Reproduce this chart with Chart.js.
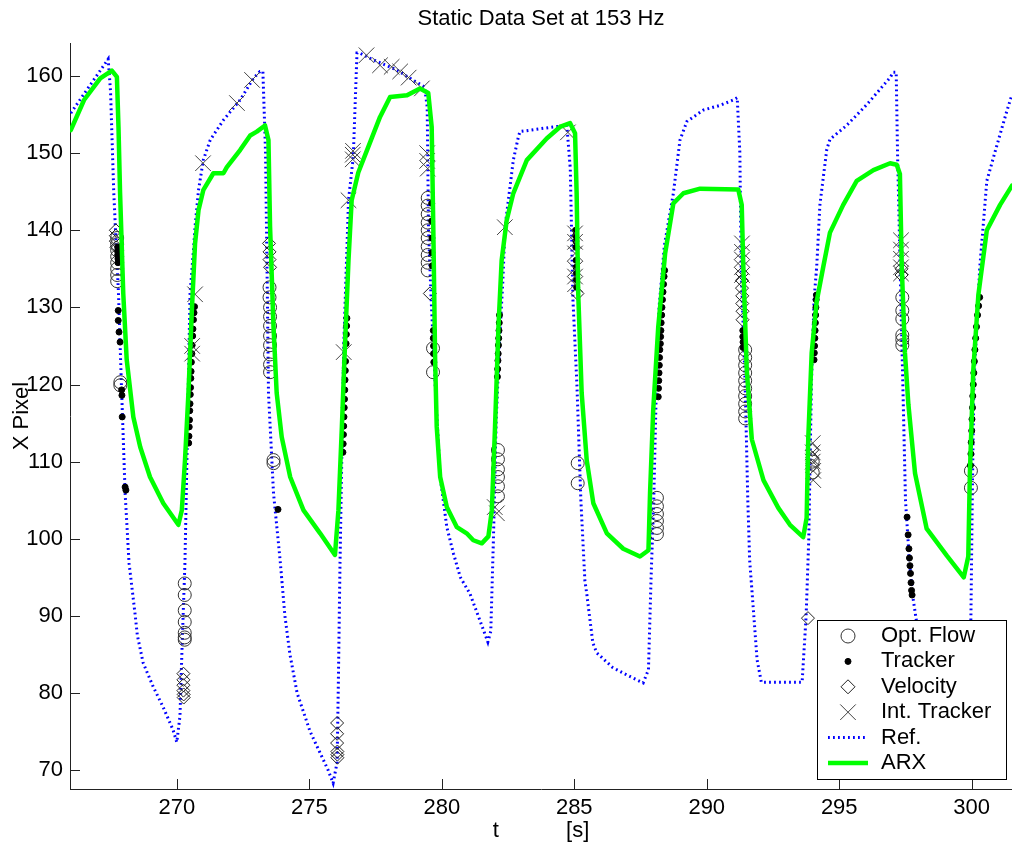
<!DOCTYPE html>
<html>
<head>
<meta charset="utf-8">
<script src="https://cdn.jsdelivr.net/npm/chart.js@4.4.0/dist/chart.umd.min.js"></script>
<style>
  html, body { margin: 0; padding: 0; background: #fff; }
  canvas { display: block; }
</style>
</head>
<body>
<canvas id="myChart" width="1012" height="846"></canvas>
<script>
const chartTitle = 'Static Data Set at 153 Hz';
const xTitle = 't           [s]';
const yTitle = 'X Pixel';
const xTickValues = [270, 275, 280, 285, 290, 295, 300];
const yTickValues = [70, 80, 90, 100, 110, 120, 130, 140, 150, 160];
const xRange = [265.97, 301.52];
const yRange = [67.54, 164.29];

// Ref. trajectory (dotted blue)
const refTime = [266.0, 267.41, 267.5, 267.62, 267.8, 267.92, 268.05, 268.2, 268.43, 268.51, 268.73, 269.11, 269.48, 269.86, 270.0,
  270.12, 270.2, 270.31, 270.5, 270.62, 270.69, 270.82, 271.0, 271.26, 271.76, 272.39, 272.89, 273.14, 273.25,
  273.35, 273.42, 273.46, 273.65, 273.9, 274.08, 274.27, 274.54, 275.03, 275.71, 275.9,
  276.05, 276.1, 276.16, 276.3, 276.48, 276.66, 276.8, 276.9, 277.3, 278.3, 278.9, 279.35, 279.45,
  279.5, 279.6, 279.75, 279.94, 280.19, 280.44, 280.7, 281.06, 281.44, 281.74,
  281.85, 281.95, 282.05, 282.2, 282.3, 282.39, 282.7, 282.89, 282.95, 284.2, 284.72,
  284.85, 284.95, 285.1, 285.25, 285.4, 285.47, 285.7, 285.85, 286.45, 287.0, 287.6,
  287.8, 287.9, 288.0, 288.1, 288.2, 288.4, 288.74, 288.99, 289.25, 289.87, 290.5, 291.0, 291.15,
  291.25, 291.3, 291.45, 291.55, 291.62, 291.9, 292.06, 293.6,
  293.75, 293.85, 293.95, 294.05, 294.15, 294.27, 294.53, 294.65, 295.28, 296.04, 296.92, 297.04, 297.15,
  297.2, 297.3, 297.4, 297.5, 297.65, 297.78, 297.95, 298.4, 299.0, 299.7, 299.9,
  299.97, 300.02, 300.08, 300.3, 300.57, 300.94, 301.32, 301.52];
const refPixel = [155.2, 162.2, 158.0, 145.0, 131.8, 118.9, 105.9, 96.8, 90.1, 87.5, 83.9, 80.8, 78.2, 75.2, 73.6,
  77.0, 86.0, 97.2, 131.8, 137.0, 140.5, 145.2, 149.1, 151.7, 154.3, 156.9, 159.7, 160.6, 160.6,
  150.0, 131.0, 118.9, 105.9, 97.2, 90.0, 85.0, 80.0, 75.0, 70.0, 68.3,
  71.0, 82.0, 97.0, 125.0, 143.9, 149.5, 163.0, 163.0, 162.3, 160.8, 159.5, 158.6, 156.0,
  140.0, 131.0, 120.0, 108.0, 101.5, 98.1, 95.0, 92.9, 89.4, 86.6,
  88.0, 100.0, 115.0, 127.0, 133.0, 140.5, 149.1, 152.1, 152.8, 153.4, 153.6,
  148.0, 131.0, 120.0, 105.0, 94.6, 92.9, 86.5, 85.2, 83.3, 82.3, 81.3,
  83.0, 95.0, 105.0, 120.0, 130.0, 138.0, 144.8, 151.7, 154.1, 155.6, 156.2, 156.9, 157.2,
  150.0, 135.0, 120.0, 105.0, 97.2, 84.3, 81.4, 81.4,
  90.0, 100.0, 120.0, 131.0, 135.3, 143.3, 150.5, 151.8, 153.6, 156.3, 159.8, 160.5, 160.5,
  150.0, 135.0, 120.0, 105.0, 97.0, 92.4, 88.5, 83.0, 79.0, 77.0, 77.5,
  90.0, 105.0, 120.0, 135.0, 146.4, 150.9, 155.4, 157.6];

// ARX model output (green)
const arxTime = [266.0, 266.5, 267.11, 267.55, 267.74, 267.8, 267.86, 267.98, 268.11, 268.36, 268.62, 268.99, 269.49, 270.06,
  270.19, 270.31, 270.44, 270.57, 270.69, 270.82, 271.0, 271.38, 271.76, 271.89, 272.39, 272.77, 273.02, 273.33,
  273.46, 273.52, 273.65, 273.77, 273.96, 274.28, 274.78, 275.41, 275.97,
  276.1, 276.23, 276.35, 276.48, 276.6, 276.85, 277.18, 277.67, 278.05, 278.69, 279.18, 279.49,
  279.62, 279.68, 279.75, 279.81, 279.94, 280.19, 280.57, 280.94, 281.19, 281.51, 281.76,
  281.89, 282.01, 282.14, 282.26, 282.45, 282.7, 283.21, 283.96, 284.46, 284.84,
  285.03, 285.09, 285.15, 285.28, 285.47, 285.72, 286.23, 286.85, 287.48, 287.8,
  287.86, 287.98, 288.17, 288.43, 288.74, 289.12, 289.75, 291.19,
  291.32, 291.38, 291.51, 291.7, 292.14, 292.7, 293.14, 293.64,
  293.77, 293.83, 293.96, 294.15, 294.4, 294.65, 295.15, 295.66, 296.29, 296.92, 297.17,
  297.29, 297.36, 297.48, 297.61, 297.86, 298.3, 299.06, 299.7,
  299.87, 299.93, 300.06, 300.25, 300.57, 301.07, 301.52];
const arxPixel = [153.0, 156.9, 159.7, 160.7, 159.9, 153.4, 144.8, 131.8, 123.2, 115.8, 111.9, 108.0, 104.6, 101.8,
  103.7, 110.2, 118.9, 129.7, 138.3, 142.6, 145.2, 147.4, 147.4, 148.2, 150.4, 152.3, 152.8, 153.6,
  151.7, 140.5, 127.5, 118.9, 113.2, 108.0, 103.7, 100.7, 97.9,
  103.7, 114.5, 125.3, 136.1, 143.9, 147.5, 150.4, 154.7, 157.3, 157.5, 158.4, 157.8,
  153.4, 140.5, 123.2, 114.5, 108.0, 104.1, 101.5, 100.7, 99.8, 99.4, 100.3,
  103.7, 114.5, 127.5, 136.1, 141.3, 144.8, 149.1, 151.9, 153.4, 153.9,
  152.6, 144.8, 131.8, 118.9, 110.2, 104.6, 100.7, 98.7, 97.7, 98.5,
  105.9, 116.7, 127.5, 137.0, 143.5, 144.8, 145.4, 145.3,
  143.3, 135.3, 121.9, 112.9, 107.6, 104.0, 101.8, 100.2,
  102.7, 112.9, 124.1, 130.8, 135.3, 139.7, 143.3, 146.4, 147.8, 148.7, 148.5,
  147.3, 135.3, 124.1, 117.4, 108.5, 101.3, 97.8, 95.0,
  97.7, 108.5, 121.9, 131.6, 140.0, 143.3, 145.8];

// Opt. Flow (open circles)
const flowTime = [267.75, 267.75, 267.75, 267.75, 267.75, 267.75, 267.75, 267.75, 267.87, 267.87,
  270.3, 270.3, 270.3, 270.3, 270.3, 270.3, 270.3,
  273.5, 273.5, 273.52, 273.52, 273.52, 273.52, 273.52, 273.52, 273.52, 273.52, 273.65, 273.65,
  279.47, 279.47, 279.47, 279.47, 279.47, 279.47, 279.47, 279.47, 279.47, 279.47, 279.67, 279.67,
  282.12, 282.12, 282.12, 282.12, 282.12, 282.12, 285.13, 285.13,
  288.12, 288.12, 288.12, 288.12, 288.12, 288.12,
  291.45, 291.45, 291.45, 291.45, 291.45, 291.45, 291.45, 291.45, 291.45, 291.45,
  294.0, 294.0, 297.38, 297.38, 297.38, 297.38, 297.38, 297.38, 299.97, 299.97];
const flowPixel = [139.0, 138.2, 137.4, 136.6, 135.8, 135.0, 134.2, 133.4, 120.3, 119.9,
  94.2, 92.7, 90.7, 89.2, 87.8, 87.2, 86.9,
  132.6, 131.3, 130.0, 128.8, 127.6, 126.3, 125.1, 123.9, 122.6, 121.6, 110.2, 109.8,
  144.2, 143.2, 142.1, 141.0, 140.0, 139.0, 137.9, 136.8, 135.8, 134.8, 124.7, 121.6,
  111.5, 110.3, 109.0, 108.0, 106.8, 105.5, 109.8, 107.2,
  105.3, 104.2, 103.2, 102.3, 101.4, 100.6,
  124.5, 123.5, 122.5, 121.5, 120.5, 119.5, 118.5, 117.5, 116.5, 115.6,
  110.0, 108.6, 131.3, 129.6, 128.5, 126.4, 125.8, 125.1, 108.8, 106.6];

// Tracker (filled dots)
const trackerTime = [267.77, 267.77, 267.77, 267.78, 267.78, 267.79, 267.79, 267.82, 267.86, 267.92, 267.93, 267.94, 268.05, 268.08,
  270.45, 270.46, 270.47, 270.48, 270.49, 270.5, 270.51, 270.52, 270.53, 270.54, 270.55, 270.57, 270.58, 270.6, 270.61, 270.63, 270.65, 270.67,
  273.82,
  276.27, 276.28, 276.29, 276.3, 276.31, 276.32, 276.33, 276.34, 276.35, 276.36, 276.37, 276.39, 276.4, 276.41, 276.42,
  279.62, 279.62, 279.63, 279.63, 279.64, 279.68, 279.68, 279.69, 279.69, 279.7,
  282.1, 282.11, 282.12, 282.13, 282.14, 282.15, 282.16, 282.17, 282.18,
  285.05, 285.05, 285.06, 285.06, 285.07, 285.07, 285.08, 285.08, 285.09,
  288.17, 288.18, 288.19, 288.2, 288.21, 288.22, 288.23, 288.25, 288.26, 288.27, 288.28, 288.3, 288.31, 288.33, 288.35, 288.37, 288.39, 288.41,
  291.36, 291.36, 291.37, 291.37,
  294.05, 294.06, 294.07, 294.08, 294.09, 294.1, 294.11, 294.12, 294.13, 294.14,
  297.56, 297.6, 297.63, 297.65, 297.67, 297.69, 297.71, 297.73, 297.75,
  299.95, 299.97, 299.98, 300.0, 300.01, 300.03, 300.04, 300.06, 300.08, 300.1, 300.12, 300.15, 300.18, 300.22, 300.26, 300.3];
const trackerPixel = [137.8, 137.3, 136.8, 136.3, 135.8, 129.6, 128.3, 126.8, 125.5, 119.3, 118.6, 115.8, 106.7, 106.3,
  112.4, 113.3, 114.5, 115.4, 116.6, 117.5, 118.7, 119.6, 120.8, 121.7, 122.9, 124.0, 125.1, 126.3, 127.2, 128.4, 129.3, 130.1,
  103.8,
  111.2, 112.3, 113.5, 114.6, 115.8, 117.0, 118.1, 119.3, 120.6, 121.8, 123.0, 125.3, 126.5, 127.6, 128.6,
  143.5, 141.2, 139.0, 137.1, 135.4, 127.0, 126.0, 125.0, 124.0, 122.9,
  121.0, 122.0, 123.1, 124.0, 125.1, 126.0, 127.0, 128.0, 129.0,
  140.0, 139.3, 138.6, 137.8, 136.1, 135.2, 134.4, 133.6, 132.6,
  118.4, 119.5, 120.5, 121.5, 122.5, 123.5, 124.5, 125.3, 126.2, 127.0, 128.0, 129.0, 130.0, 131.0, 132.0, 133.0, 134.0, 134.8,
  127.0, 126.2, 125.5, 124.8,
  123.2, 124.1, 125.0, 126.0, 127.0, 128.0, 129.0, 130.0, 131.0, 131.6,
  102.8, 100.5, 98.7, 97.5, 96.5, 95.5, 94.3, 93.3, 92.7,
  109.5, 111.0, 112.5, 114.0, 115.5, 117.0, 118.5, 120.0, 121.5, 123.0, 124.5, 126.0, 127.5, 129.0, 130.2, 131.3];

// Velocity (open diamonds)
const velocityTime = [267.7, 267.7, 267.7, 267.72,
  270.25, 270.25, 270.25, 270.25, 270.26, 270.26,
  273.48, 273.5, 273.5, 273.52,
  276.05, 276.05, 276.05, 276.06, 276.06, 276.06,
  279.55, 285.12,
  291.33, 291.33, 291.33, 291.34, 291.34, 291.35, 291.35,
  293.82, 293.98, 293.98, 293.99, 297.35, 297.35];
const velocityPixel = [140.0, 139.3, 138.6, 137.8,
  82.5, 81.7, 81.0, 80.3, 79.8, 79.4,
  138.3, 137.2, 136.2, 135.2,
  76.1, 74.7, 73.5, 72.4, 72.0, 71.6,
  131.8, 131.8,
  134.4, 133.5, 132.5, 131.5, 130.5, 129.5, 128.4,
  89.7, 111.5, 110.5, 109.5, 135.0, 134.2];

// Int. Tracker (crosses)
const intTime = [270.69, 270.58, 270.58, 270.99, 272.27, 272.84,
  276.3, 276.48, 276.64, 276.64, 276.65,
  277.16, 277.67, 278.11, 278.43, 278.75, 279.25, 279.45, 279.45, 279.47,
  282.0, 282.08, 282.38, 284.76,
  285.03, 285.03, 285.03, 285.03, 285.03, 285.03,
  291.33, 291.33, 291.33, 291.33, 291.33,
  294.0, 294.0, 294.0, 294.02, 294.02,
  297.33, 297.33, 297.33, 297.33, 297.33];
const intPixel = [131.7, 125.0, 124.0, 148.7, 156.5, 159.5,
  124.2, 143.9, 149.2, 149.8, 150.3,
  162.7, 161.4, 161.2, 160.6, 159.8, 158.4, 150.0, 149.0, 148.0,
  104.1, 103.3, 140.4, 152.7,
  139.6, 138.5, 137.0, 135.0, 134.0, 133.0,
  138.3, 137.2, 136.2, 135.2, 134.2,
  112.4, 111.2, 110.0, 108.8, 107.6,
  138.7, 137.5, 136.3, 135.2, 134.4];

const toPoints = (ts, vs) => ts.map((t, i) => ({ x: t, y: vs[i] }));

// MATLAB style ticks pointing into the axes
const innerTicks = {
    id: 'innerTicks',
    afterDraw(chart) {
        const { ctx, chartArea, scales } = chart;
        ctx.save();
        ctx.strokeStyle = '#222';
        ctx.lineWidth = 1;
        ctx.beginPath();
        xTickValues.forEach((v) => {
            const px = Math.round(scales.x.getPixelForValue(v)) + 0.5;
            ctx.moveTo(px, chartArea.bottom);
            ctx.lineTo(px, chartArea.bottom - 10);
        });
        yTickValues.forEach((v) => {
            const py = Math.round(scales.y.getPixelForValue(v)) + 0.5;
            ctx.moveTo(chartArea.left, py);
            ctx.lineTo(chartArea.left + 10, py);
        });
        ctx.stroke();
        ctx.restore();
    },
};

// legend box inside the lower right corner
const boxLegend = {
    id: 'boxLegend',
    afterDraw(chart) {
        const { ctx, chartArea } = chart;
        const w = 189;
        const h = 159;
        const x0 = Math.round(chartArea.right - 6 - w);
        const y0 = Math.round(chartArea.bottom - 10 - h);
        ctx.save();
        ctx.fillStyle = '#fff';
        ctx.fillRect(x0, y0, w, h);
        ctx.strokeStyle = '#000';
        ctx.lineWidth = 1;
        ctx.strokeRect(x0 + 0.5, y0 + 0.5, w, h);
        ctx.font = '22px "Liberation Sans", Arial, sans-serif';
        ctx.textBaseline = 'middle';
        chart.data.datasets.forEach((ds, i) => {
            const y = y0 + 16 + i * 25.4;
            const cx = x0 + 31;
            ctx.save();
            if (ds.showLine) {
                ctx.strokeStyle = ds.borderColor;
                ctx.lineWidth = ds.borderWidth;
                ctx.setLineDash(ds.borderDash || []);
                ctx.beginPath();
                ctx.moveTo(cx - 20, y);
                ctx.lineTo(cx + 20, y);
                ctx.stroke();
            } else {
                ctx.strokeStyle = ds.borderColor;
                ctx.fillStyle = ds.backgroundColor;
                ctx.lineWidth = ds.borderWidth;
                Chart.helpers.drawPoint(ctx, {
                    pointStyle: ds.pointStyle,
                    radius: ds.legendRadius,
                    borderWidth: ds.borderWidth,
                    rotation: 0,
                }, cx, y);
            }
            ctx.restore();
            ctx.fillStyle = '#000';
            ctx.fillText(ds.label, x0 + 64, y);
        });
        ctx.restore();
    },
};

function createChart() {
    const ctx = document.getElementById('myChart').getContext('2d');
    Chart.defaults.font.family = '"Liberation Sans", Arial, sans-serif';
    Chart.defaults.font.size = 22;
    Chart.defaults.color = '#000';

    return new Chart(ctx, {
        type: 'scatter',
        data: {
            datasets: [
                {
                    label: 'Opt. Flow',
                    data: toPoints(flowTime, flowPixel),
                    pointStyle: 'circle',
                    pointRadius: 6.5,
                    legendRadius: 7,
                    borderColor: '#333',
                    backgroundColor: 'rgba(0,0,0,0)',
                    borderWidth: 1,
                    order: 3,
                },
                {
                    label: 'Tracker',
                    data: toPoints(trackerTime, trackerPixel),
                    pointStyle: 'circle',
                    pointRadius: 3,
                    legendRadius: 3,
                    borderColor: '#000',
                    backgroundColor: '#000',
                    borderWidth: 1,
                    order: 2,
                },
                {
                    label: 'Velocity',
                    data: toPoints(velocityTime, velocityPixel),
                    pointStyle: 'rectRot',
                    pointRadius: 6.5,
                    legendRadius: 7,
                    borderColor: '#222',
                    backgroundColor: 'rgba(0,0,0,0)',
                    borderWidth: 1,
                    order: 4,
                },
                {
                    label: 'Int. Tracker',
                    data: toPoints(intTime, intPixel),
                    pointStyle: 'crossRot',
                    pointRadius: 11,
                    legendRadius: 11,
                    borderColor: '#444',
                    backgroundColor: 'rgba(0,0,0,0)',
                    borderWidth: 1,
                    order: 1,
                },
                {
                    label: 'Ref.',
                    data: toPoints(refTime, refPixel),
                    showLine: true,
                    pointRadius: 0,
                    borderColor: '#0000ff',
                    borderWidth: 3,
                    borderDash: [1.8, 3.2],
                    borderCapStyle: 'butt',
                    tension: 0,
                    order: 6,
                },
                {
                    label: 'ARX',
                    data: toPoints(arxTime, arxPixel),
                    showLine: true,
                    pointRadius: 0,
                    borderColor: '#00ff00',
                    borderWidth: 4.5,
                    borderJoinStyle: 'round',
                    borderCapStyle: 'round',
                    tension: 0,
                    order: 0,
                },
            ],
        },
        options: {
            responsive: false,
            animation: false,
            devicePixelRatio: 1,
            events: [],
            layout: { padding: 0, autoPadding: false },
            plugins: {
                legend: { display: false },
                tooltip: { enabled: false },
                title: {
                    display: true,
                    fullSize: false,
                    text: chartTitle,
                    color: '#000',
                    font: { size: 22, weight: 'normal' },
                    padding: { top: 6, bottom: 10.6 },
                },
            },
            scales: {
                x: {
                    type: 'linear',
                    min: xRange[0],
                    max: xRange[1],
                    afterBuildTicks: (s) => { s.ticks = xTickValues.map((v) => ({ value: v })); },
                    afterFit: (s) => { s.height = 57; s.paddingLeft = 0; s.paddingRight = 0; },
                    grid: { display: false, drawTicks: false },
                    border: { display: true, color: '#222', width: 1 },
                    ticks: { padding: 6, maxRotation: 0, autoSkip: false, color: '#000' },
                    title: { display: true, text: xTitle, color: '#000', padding: { top: 0, bottom: 2 } },
                },
                y: {
                    type: 'linear',
                    min: yRange[0],
                    max: yRange[1],
                    afterBuildTicks: (s) => { s.ticks = yTickValues.map((v) => ({ value: v })); },
                    afterFit: (s) => { s.width = 70; s.paddingTop = 0; s.paddingBottom = 0; },
                    grid: { display: false, drawTicks: false },
                    border: { display: true, color: '#222', width: 1 },
                    ticks: { padding: 7, autoSkip: false, color: '#000' },
                    title: { display: true, text: yTitle, color: '#000', padding: { top: 9, bottom: 0 } },
                },
            },
        },
        plugins: [innerTicks, boxLegend],
    });
}

createChart();
</script>
</body>
</html>
